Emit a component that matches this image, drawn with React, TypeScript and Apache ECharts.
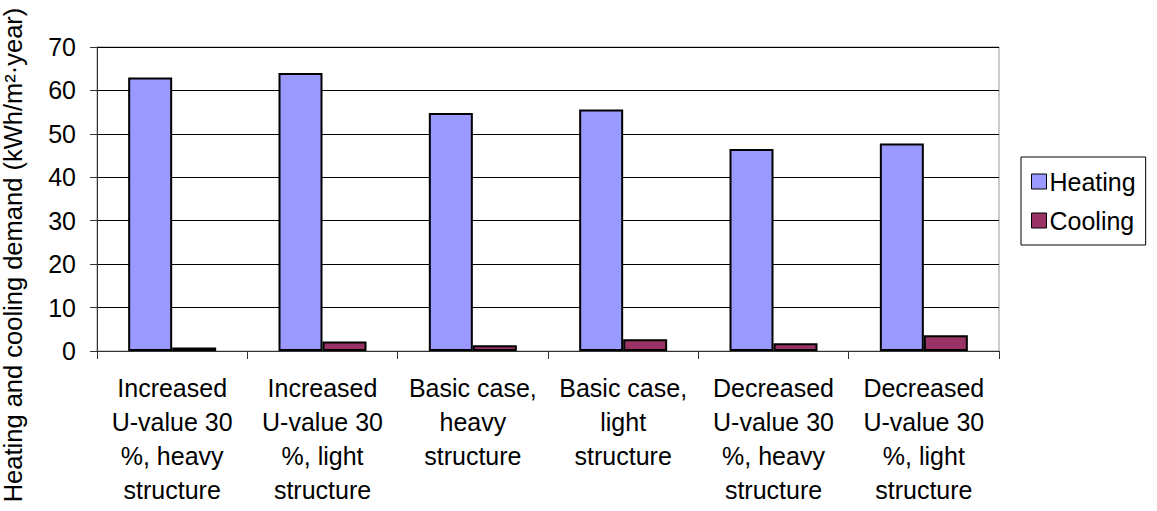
import React, { useEffect, useRef } from "react";
import * as echarts from "echarts";

const categories = [
  "Increased\nU-value 30\n%, heavy\nstructure",
  "Increased\nU-value 30\n%, light\nstructure",
  "Basic case,\nheavy\nstructure",
  "Basic case,\nlight\nstructure",
  "Decreased\nU-value 30\n%, heavy\nstructure",
  "Decreased\nU-value 30\n%, light\nstructure",
];
const heating = [63.0, 64.0, 54.8, 55.6, 46.5, 47.8];
const cooling = [0.8, 2.2, 1.3, 2.7, 1.8, 3.6];
const yTicks = { min: 0, max: 70, interval: 10 };
const yTitle = "Heating and cooling demand (kWh/m²·year)";

const FONT = "Arial, 'Liberation Sans', sans-serif";

export default function App() {
  const ref = useRef<HTMLDivElement>(null);

  useEffect(() => {
    if (!ref.current) return;
    const chart = echarts.init(ref.current, null, { renderer: "svg" });
    chart.setOption({
      animation: false,
      backgroundColor: "#ffffff",
      textStyle: { fontFamily: FONT },
      grid: {
        left: 97,
        right: 158,
        top: 47,
        bottom: 160,
        show: true,
        borderColor: "#999999",
        borderWidth: 1,
        backgroundColor: "transparent",
      },
      legend: {
        orient: "vertical",
        left: 1021,
        top: 157,
        width: 129,
        height: 86,
        padding: [12, 10, 12, 10],
        borderColor: "#000000",
        borderWidth: 1,
        itemWidth: 15,
        itemHeight: 15,
        itemGap: 14,
        textStyle: { fontSize: 25, color: "#000", fontFamily: FONT, padding: [0, 0, 0, -2] },
        icon: "rect",
        itemStyle: { borderColor: "#000", borderWidth: 1 },
        data: ["Heating", "Cooling"],
      },
      graphic: [
        {
          type: "text",
          x: 13,
          y: 255,
          rotation: Math.PI / 2,
          style: {
            text: yTitle,
            fontSize: 25.5,
            fontFamily: FONT,
            fill: "#000",
            align: "center",
            verticalAlign: "middle",
          },
        },
      ],
      xAxis: {
        type: "category",
        data: categories,
        axisLine: { lineStyle: { color: "#333", width: 1 } },
        axisTick: { show: true, alignWithLabel: false, length: 8, lineStyle: { color: "#333" } },
        axisLabel: {
          interval: 0,
          fontSize: 25,
          lineHeight: 34,
          color: "#000",
          margin: 20,
          fontFamily: FONT,
        },
      },
      yAxis: {
        type: "value",
        min: yTicks.min,
        max: yTicks.max,
        interval: yTicks.interval,
        axisLine: { show: true, lineStyle: { color: "#333", width: 1 } },
        axisTick: { show: true, length: 7, lineStyle: { color: "#333" } },
        axisLabel: { fontSize: 25, color: "#000", margin: 21, fontFamily: FONT },
        splitLine: { show: true, lineStyle: { color: "#000", width: 1 } },
      },
      series: [
        {
          name: "Heating",
          type: "bar",
          data: heating,
          barWidth: 44,
          barGap: "0%",
          itemStyle: { color: "#9999FF", borderColor: "#000", borderWidth: 2 },
        },
        {
          name: "Cooling",
          type: "bar",
          data: cooling,
          barWidth: 44,
          barGap: "0%",
          itemStyle: { color: "#993366", borderColor: "#000", borderWidth: 2 },
        },
      ],
    });
    return () => chart.dispose();
  }, []);

  return (
    <div
      ref={ref}
      style={{ position: "fixed", left: 0, top: 0, width: 1157, height: 511 }}
    />
  );
}
